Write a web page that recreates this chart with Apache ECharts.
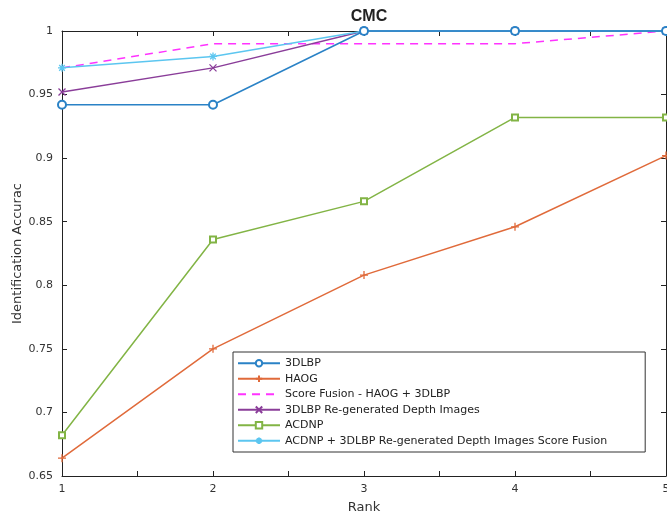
<!DOCTYPE html>
<html><head><meta charset="utf-8">
<script src="https://cdn.jsdelivr.net/npm/echarts@6/dist/echarts.min.js"></script>
<style>html,body{margin:0;padding:0;background:#fff}#c{width:667px;height:511px}</style>
</head><body><div id="c"></div>
<script>
const ranks = [1, 2, 3, 4, 5];
const names = ['3DLBP', 'HAOG', 'Score Fusion - HAOG + 3DLBP', '3DLBP Re-generated Depth Images', 'ACDNP', 'ACDNP + 3DLBP Re-generated Depth Images Score Fusion'];
const s3DLBP = [0.942, 0.942, 1.0, 1.0, 1.0];
const sHAOG = [0.664, 0.750, 0.808, 0.846, 0.902];
const sFusion = [0.971, 0.990, 0.990, 0.990, 1.0];
const sRegen = [0.952, 0.971, 1.0, 1.0, 1.0];
const sACDNP = [0.682, 0.836, 0.866, 0.932, 0.932];
const sACDNPFusion = [0.971, 0.980, 1.0, 1.0, 1.0];
const yTicks = ['0.65','0.7','0.75','0.8','0.85','0.9','0.95','1'];

const colors = ['#2a82c6', '#e06a3a', '#ff33ff', '#8a3d99', '#82b445', '#5cc6f0'];
const FONT = 'DejaVu Sans, Verdana, sans-serif';
const P = v => ranks.map((r, i) => [r, v[i]]);
const plus = 'path://M5,0L5,10M0,5L10,5';
const cross = 'path://M0,0L10,10M10,0L0,10';
const star = 'path://M5,0L5,10M0,5L10,5M1.5,1.5L8.5,8.5M8.5,1.5L1.5,8.5';
function ser(i, data, symbol, extra) {
  const c = colors[i];
  return Object.assign({
    name: names[i], type: 'line', data: P(data), symbol: symbol, symbolSize: 8,
    lineStyle: { color: c, width: 1.5 },
    itemStyle: { color: c, borderColor: c, borderWidth: 1.3 },
    emphasis: { disabled: true }, animation: false, clip: false, z: 3
  }, extra || {});
}
const chart = echarts.init(document.getElementById('c'));
const axisTxt = { color: '#333', fontSize: 11, fontFamily: FONT };
const legendData = names.map((n, i) => i === 2
  ? { name: n, itemStyle: { color: 'rgba(0,0,0,0)', borderWidth: 0 } }
  : { name: n });
chart.setOption({
  animation: false,
  title: { text: 'CMC', left: 364, top: 4, textAlign: 'center',
    textStyle: { fontSize: 16, fontWeight: 'bold', color: '#222', fontFamily: 'Liberation Sans, Arial, sans-serif' } },
  grid: { left: 62, right: 1, top: 31, bottom: 35, containLabel: false, outerBoundsMode: 'none' },
  xAxis: [
    { type: 'value', min: 1, max: 5, interval: 0.5, position: 'bottom',
      name: 'Rank', nameLocation: 'middle', nameGap: 25, nameMoveOverlap: false,
      nameTextStyle: { fontSize: 13, color: '#333', fontFamily: FONT },
      axisLine: { lineStyle: { color: '#222', width: 1 } },
      axisTick: { inside: true, length: 5, lineStyle: { color: '#222' } },
      axisLabel: Object.assign({ margin: 8, formatter: v => Number.isInteger(v) ? String(v) : '' }, axisTxt),
      splitLine: { show: false } },
    { type: 'value', min: 1, max: 5, interval: 0.5, position: 'top',
      axisLine: { lineStyle: { color: '#222', width: 1 } },
      axisTick: { inside: true, length: 5, lineStyle: { color: '#222' } },
      axisLabel: { show: false }, splitLine: { show: false } }
  ],
  yAxis: [
    { type: 'value', min: 0.65, max: 1, interval: 0.05, position: 'left',
      name: 'Identification Accurac', nameLocation: 'middle', nameGap: 38, nameRotate: 90, nameMoveOverlap: false,
      nameTextStyle: { fontSize: 13, color: '#333', fontFamily: FONT },
      axisLine: { show: true, lineStyle: { color: '#222', width: 1 } },
      axisTick: { show: true, inside: true, length: 5, lineStyle: { color: '#222' } },
      axisLabel: Object.assign({ margin: 9, formatter: v => { const i = Math.round((v - 0.65) / 0.05); return yTicks[i] || ''; } }, axisTxt),
      splitLine: { show: false } },
    { type: 'value', min: 0.65, max: 1, interval: 0.05, position: 'right',
      axisLine: { show: true, lineStyle: { color: '#222', width: 1 } },
      axisTick: { show: true, inside: true, length: 5, lineStyle: { color: '#222' } },
      axisLabel: { show: false }, splitLine: { show: false } }
  ],
  legend: {
    orient: 'vertical', left: 233, top: 352,
    padding: [5, 38, 5, 4], itemGap: 3, itemWidth: 42, itemHeight: 8,
    backgroundColor: '#fff', borderColor: '#333', borderWidth: 1, borderRadius: 0,
    textStyle: { fontSize: 11, color: '#222', fontFamily: FONT, lineHeight: 12.5 },
    data: legendData
  },
  series: [
    ser(2, sFusion, 'none', { lineStyle: { color: colors[2], width: 1.5, type: [8, 6] }, z: 2 }),
    ser(1, sHAOG, plus),
    ser(4, sACDNP, 'emptyRect', { symbolSize: 6 }),
    ser(3, sRegen, cross, { symbolSize: 7 }),
    ser(5, sACDNPFusion, star),
    ser(0, s3DLBP, 'emptyCircle', { symbolSize: 8 })
  ]
});
</script></body></html>
